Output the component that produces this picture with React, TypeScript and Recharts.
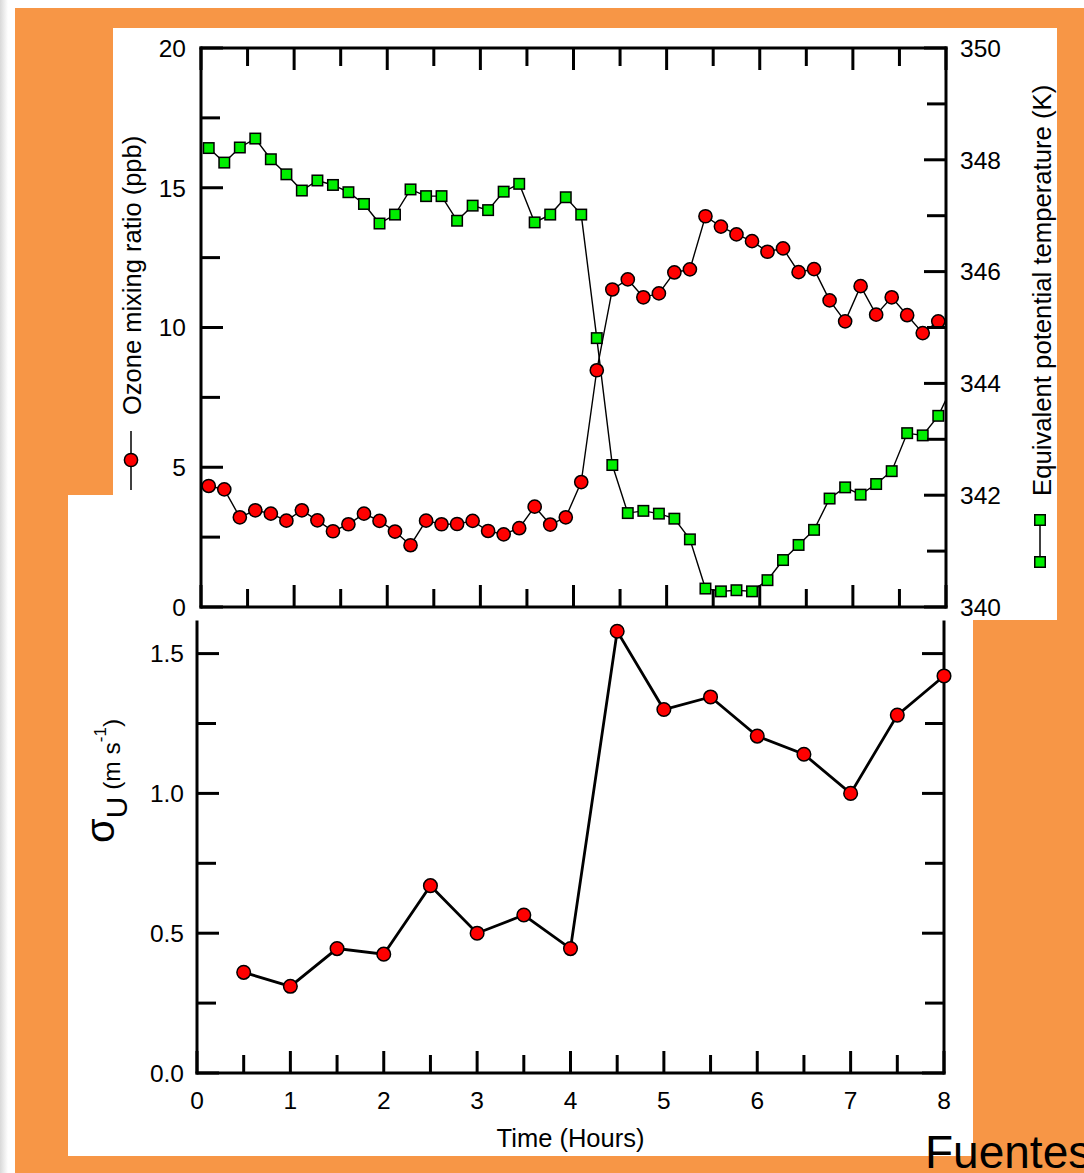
import React from 'react';
import { LineChart, Line, XAxis, YAxis } from 'recharts';

// Ten-minute samples (hours after start) for the upper panel
const sampleHours = [
  0.083, 0.25, 0.417, 0.583, 0.75, 0.917, 1.083, 1.25, 1.417, 1.583, 1.75, 1.917,
  2.083, 2.25, 2.417, 2.583, 2.75, 2.917, 3.083, 3.25, 3.417, 3.583, 3.75, 3.917,
  4.083, 4.25, 4.417, 4.583, 4.75, 4.917, 5.083, 5.25, 5.417, 5.583, 5.75, 5.917,
  6.083, 6.25, 6.417, 6.583, 6.75, 6.917, 7.083, 7.25, 7.417, 7.583, 7.75, 7.917, 8.083,
];

// Ozone mixing ratio (ppb)
const ozonePpb = [
  4.33, 4.21, 3.21, 3.46, 3.34, 3.09, 3.46, 3.1, 2.71, 2.96, 3.34, 3.08,
  2.7, 2.21, 3.09, 2.96, 2.97, 3.08, 2.72, 2.6, 2.82, 3.59, 2.95, 3.21,
  4.47, 8.47, 11.36, 11.72, 11.08, 11.22, 11.97, 12.08, 13.98, 13.61, 13.33, 13.09,
  12.71, 12.83, 11.98, 12.09, 10.97, 10.22, 11.48, 10.46, 11.08, 10.44, 9.8, 10.22, 10.15,
];

// Equivalent potential temperature (K)
const thetaE = [
  348.21, 347.95, 348.22, 348.38, 348.01, 347.74, 347.45, 347.63, 347.55, 347.42, 347.21, 346.86,
  347.02, 347.47, 347.35, 347.35, 346.91, 347.18, 347.1, 347.43, 347.57, 346.88, 347.02, 347.33,
  347.02, 344.81, 342.54, 341.68, 341.72, 341.67, 341.58, 341.21, 340.33, 340.28, 340.3, 340.28,
  340.48, 340.84, 341.11, 341.38, 341.94, 342.14, 342.01, 342.2, 342.43, 343.11, 343.07, 343.42, 344.0,
];

// Half-hourly standard deviation of u (m s-1) for the lower panel
const sigmaHours = [0.5, 1, 1.5, 2, 2.5, 3, 3.5, 4, 4.5, 5, 5.5, 6, 6.5, 7, 7.5, 8];
const sigmaU = [0.36, 0.31, 0.445, 0.425, 0.67, 0.5, 0.565, 0.445, 1.58, 1.3, 1.345, 1.205, 1.14, 1.0, 1.28, 1.42];

// Tick positions
const hourTicks = [0, 0.5, 1, 1.5, 2, 2.5, 3, 3.5, 4, 4.5, 5, 5.5, 6, 6.5, 7, 7.5, 8];
const ozoneTicks = [0, 2.5, 5, 7.5, 10, 12.5, 15, 17.5, 20];
const thetaTicks = [340, 341, 342, 343, 344, 345, 346, 347, 348, 349, 350];
const sigmaTicks = [0, 0.25, 0.5, 0.75, 1, 1.25, 1.5];

const upperData = sampleHours.map((h, i) => ({ h, ozone: ozonePpb[i], theta: thetaE[i] }));
const lowerData = sigmaHours.map((h, i) => ({ h, sigma: sigmaU[i] }));

const FONT = '"Liberation Sans", Arial, Helvetica, sans-serif';
const ORANGE = '#F79646';
const RED = '#ff0000';
const GREEN = '#00ee00';
const TICK_FONT = 24.5;

const isMultiple = (v: number, step: number) => {
  const r = v / step;
  return Math.abs(r - Math.round(r)) < 1e-6;
};

// Inward-pointing x ticks; longer at whole hours, labels optional
function makeXTick(side: 'top' | 'bottom', showLabel: boolean) {
  return (p: any) => {
    const v = Number(p.payload.value);
    const major = isMultiple(v, 1);
    const len = major ? 22 : 18;
    const dir = side === 'bottom' ? -1 : 1;
    return (
      <g>
        <line x1={p.x} y1={p.y} x2={p.x} y2={p.y + dir * len} stroke="#000" strokeWidth={3} />
        {showLabel && major ? (
          <text x={p.x} y={p.y + 36} textAnchor="middle" fontSize={TICK_FONT} fontFamily={FONT} fill="#000">
            {v}
          </text>
        ) : null}
      </g>
    );
  };
}

// Inward-pointing y ticks; longer at the labelled step
function makeYTick(side: 'left' | 'right', step: number, gap: number, fmt: ((v: number) => string) | null) {
  return (p: any) => {
    const v = Number(p.payload.value);
    const major = isMultiple(v, step);
    const len = major ? 22 : 19;
    const dir = side === 'left' ? 1 : -1;
    return (
      <g>
        <line x1={p.x} y1={p.y} x2={p.x + dir * len} y2={p.y} stroke="#000" strokeWidth={3} />
        {fmt && major ? (
          <text
            x={p.x - dir * gap}
            y={p.y + 8.8}
            textAnchor={side === 'left' ? 'end' : 'start'}
            fontSize={TICK_FONT}
            fontFamily={FONT}
            fill="#000"
          >
            {fmt(v)}
          </text>
        ) : null}
      </g>
    );
  };
}

const SquareDot = (props: any) => {
  const { cx, cy, index } = props;
  if (cx == null || cy == null) return <g key={`sq-${index}`} />;
  const s = 10.5;
  return (
    <rect
      key={`sq-${index}`}
      x={cx - s / 2}
      y={cy - s / 2}
      width={s}
      height={s}
      fill={GREEN}
      stroke="#000"
      strokeWidth={1.5}
    />
  );
};

const axisLineStyle = { stroke: '#000', strokeWidth: 3, strokeLinecap: 'square' as const };

// Rotated title and legend key for ozone
const OzoneTitle = () => (
  <g>
    <text transform="translate(141,415) rotate(-90)" fontSize={25.5} fontFamily={FONT} fill="#000">
      Ozone mixing ratio (ppb)
    </text>
    <line x1={131} y1={431} x2={131} y2={490} stroke="#000" strokeWidth={1.5} />
    <circle cx={131} cy={460} r={6.6} fill={RED} stroke="#000" strokeWidth={1.5} />
  </g>
);

// Rotated title and legend key for equivalent potential temperature
const ThetaTitle = () => (
  <g>
    <text transform="translate(1051,496) rotate(-90)" fontSize={25.7} fontFamily={FONT} fill="#000">
      Equivalent potential temperature (K)
    </text>
    <line x1={1040} y1={520} x2={1040} y2={562} stroke="#000" strokeWidth={1.5} />
    <rect x={1034.75} y={514.75} width={10.5} height={10.5} fill={GREEN} stroke="#000" strokeWidth={1.5} />
    <rect x={1034.75} y={556.75} width={10.5} height={10.5} fill={GREEN} stroke="#000" strokeWidth={1.5} />
  </g>
);

const SigmaTitle = () => (
  <text transform="translate(114,233) rotate(-90)" fontFamily={FONT} fill="#000">
    <tspan fontSize={40}>σ</tspan>
    <tspan fontSize={30} dy={13}>U</tspan>
    <tspan fontSize={24.5} dy={-7}>{'\u00a0(m s'}</tspan>
    <tspan fontSize={17} dy={-14}>-1</tspan>
    <tspan fontSize={24.5} dy={14}>)</tspan>
  </text>
);

const TimeTitle = (props: any) => {
  const vb = props.viewBox || { x: 197, width: 747 };
  return (
    <text x={vb.x + vb.width / 2} y={537} textAnchor="middle" fontSize={25.5} fontFamily={FONT} fill="#000">
      Time (Hours)
    </text>
  );
};

export default function App() {
  return (
    <div
      style={{
        position: 'absolute',
        left: 0,
        top: 0,
        width: 1084,
        height: 1173,
        overflow: 'hidden',
        background: '#fff',
        fontFamily: FONT,
      }}
    >
      <svg width={1084} height={1173} style={{ position: 'absolute', left: 0, top: 0 }}>
        <defs>
          <linearGradient id="edgeShade" x1="0" x2="1" y1="0" y2="0">
            <stop offset="0" stopColor="#d9d9d9" />
            <stop offset="1" stopColor="#ffffff" />
          </linearGradient>
        </defs>
        <rect x={0} y={0} width={8} height={1173} fill="url(#edgeShade)" />
        <rect x={15} y={8} width={1069} height={1165} fill={ORANGE} />
        <rect x={113} y={28} width={944} height={592} fill="#fff" />
        <rect x={68} y={495} width={905} height={661} fill="#fff" />
        <text x={925} y={1168} fontSize={46} fontFamily={FONT} fill="#000">
          Fuentes
        </text>
      </svg>

      <div style={{ position: 'absolute', left: 0, top: 0 }}>
        <LineChart width={1084} height={620} data={upperData} margin={{ top: 38, right: 58, bottom: 3, left: 121 }}>
          <XAxis
            dataKey="h"
            type="number"
            domain={[0, 8]}
            allowDataOverflow
            ticks={hourTicks}
            interval={0}
            height={10}
            tickSize={0}
            tickMargin={0}
            tickLine={false}
            axisLine={axisLineStyle}
            tick={makeXTick('bottom', false)}
          />
          <XAxis
            xAxisId="top"
            dataKey="h"
            orientation="top"
            type="number"
            domain={[0, 8]}
            allowDataOverflow
            ticks={hourTicks}
            interval={0}
            height={10}
            tickSize={0}
            tickMargin={0}
            tickLine={false}
            axisLine={axisLineStyle}
            tick={makeXTick('top', false)}
          />
          <YAxis
            yAxisId="left"
            type="number"
            domain={[0, 20]}
            allowDataOverflow
            ticks={ozoneTicks}
            interval={0}
            width={80}
            tickSize={0}
            tickMargin={0}
            tickLine={false}
            axisLine={axisLineStyle}
            tick={makeYTick('left', 5, 15, (v) => String(v))}
            label={<OzoneTitle />}
          />
          <YAxis
            yAxisId="right"
            orientation="right"
            type="number"
            domain={[340, 350]}
            allowDataOverflow
            ticks={thetaTicks}
            interval={0}
            width={80}
            tickSize={0}
            tickMargin={0}
            tickLine={false}
            axisLine={axisLineStyle}
            tick={makeYTick('right', 2, 14, (v) => String(v))}
            label={<ThetaTitle />}
          />
          <Line
            yAxisId="left"
            type="linear"
            dataKey="ozone"
            stroke="#000"
            strokeWidth={1.4}
            dot={{ r: 6.6, fill: RED, stroke: '#000', strokeWidth: 1.5 }}
            isAnimationActive={false}
          />
          <Line
            yAxisId="right"
            type="linear"
            dataKey="theta"
            stroke="#000"
            strokeWidth={1.4}
            dot={SquareDot}
            isAnimationActive={false}
          />
        </LineChart>
      </div>

      <div style={{ position: 'absolute', left: 0, top: 610 }}>
        <LineChart width={1084} height={563} data={lowerData} margin={{ top: 12, right: 60, bottom: 40, left: 117 }}>
          <XAxis
            dataKey="h"
            type="number"
            domain={[0, 8]}
            ticks={hourTicks}
            interval={0}
            height={60}
            tickSize={0}
            tickMargin={0}
            tickLine={false}
            axisLine={axisLineStyle}
            tick={makeXTick('bottom', true)}
            label={<TimeTitle />}
          />
          <YAxis
            yAxisId="left"
            type="number"
            domain={[0, 1.613]}
            allowDataOverflow
            ticks={sigmaTicks}
            interval={0}
            width={80}
            tickSize={0}
            tickMargin={0}
            tickLine={false}
            axisLine={axisLineStyle}
            tick={makeYTick('left', 0.5, 13, (v) => v.toFixed(1))}
            label={<SigmaTitle />}
          />
          <YAxis
            yAxisId="right"
            orientation="right"
            type="number"
            domain={[0, 1.613]}
            allowDataOverflow
            ticks={sigmaTicks}
            interval={0}
            width={80}
            tickSize={0}
            tickMargin={0}
            tickLine={false}
            axisLine={axisLineStyle}
            tick={makeYTick('right', 0.5, 13, null)}
          />
          <Line
            yAxisId="left"
            type="linear"
            dataKey="sigma"
            stroke="#000"
            strokeWidth={2.8}
            dot={{ r: 6.8, fill: RED, stroke: '#000', strokeWidth: 1.5 }}
            isAnimationActive={false}
          />
        </LineChart>
      </div>
    </div>
  );
}
